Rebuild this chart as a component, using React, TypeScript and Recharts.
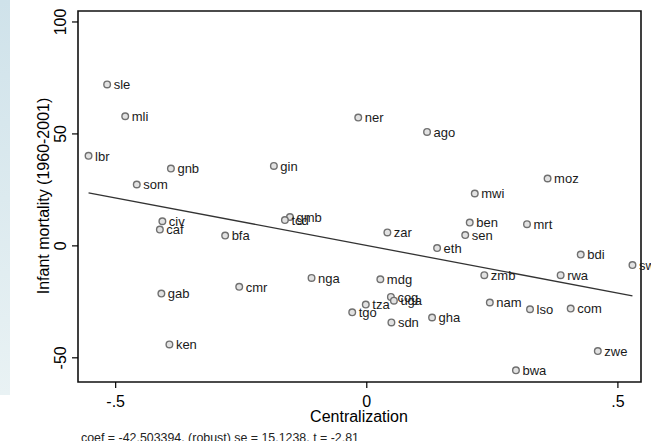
import React from 'react'
import { ScatterChart, Scatter, XAxis, YAxis, ReferenceLine, ReferenceArea } from 'recharts'

const countries = ['sle', 'mli', 'lbr', 'gnb', 'som', 'gin', 'ner', 'ago', 'moz', 'mwi', 'civ', 'caf', 'bfa', 'gmb', 'tcd', 'zar', 'ben', 'sen', 'mrt', 'eth', 'bdi', 'swz', 'zmb', 'rwa', 'nga', 'mdg', 'cmr', 'gab', 'cog', 'uga', 'tza', 'tgo', 'sdn', 'gha', 'nam', 'lso', 'com', 'ken', 'zwe', 'bwa']
const centralization = [-0.517, -0.481, -0.554, -0.390, -0.458, -0.185, -0.017, 0.120, 0.360, 0.215, -0.407, -0.412, -0.282, -0.153, -0.163, 0.041, 0.205, 0.196, 0.319, 0.140, 0.426, 0.529, 0.234, 0.386, -0.110, 0.027, -0.254, -0.409, 0.048, 0.054, -0.002, -0.029, 0.049, 0.130, 0.245, 0.325, 0.406, -0.393, 0.460, 0.297]
const mortality = [72.1, 57.9, 40.2, 34.5, 27.4, 35.7, 57.3, 50.9, 30.1, 23.4, 11.0, 7.3, 4.6, 12.9, 11.5, 6.0, 10.4, 4.8, 9.7, -1.0, -3.9, -8.6, -13.1, -13.1, -14.3, -14.9, -18.3, -21.3, -22.8, -24.5, -26.2, -29.7, -34.2, -32.0, -25.3, -28.3, -28.0, -44.0, -47.0, -55.6]

// fitted line end points
const fitX = [-0.554, 0.529]
const fitY = [23.7, -22.3]

const xTicks = [-0.5, 0, 0.5]
const yTicks = [-50, 0, 50, 100]
const xDomain = [-0.575, 0.546]
const yDomain = [-60.8, 104.9]

const data = countries.map((name, i) => ({ name, x: centralization[i], y: mortality[i] }))

const FONT = '"Liberation Sans", Arial, sans-serif'

const fmt = (v: number) => (v === 0 ? '0' : String(v).replace('0.', '.'))

const Marker = (p: any) => (
    <g>
        <circle cx={p.cx} cy={p.cy} r={3.3} fill="#e2e2e2" stroke="#707070" strokeWidth={1.4} />
        <text x={p.cx + 6.5} y={p.cy} dy="0.36em" fontSize={13} fill="#1a1a1a" fontFamily={FONT}>{p.payload.name}</text>
    </g>
)

const YTick = ({ x, y, payload }: any) => (
    <text x={x} y={y} transform={`rotate(-90 ${x} ${y})`} textAnchor="middle" fontSize={16} fill="#000" fontFamily={FONT}>
        {fmt(payload.value)}
    </text>
)

const XTitle = () => (
    <g fontFamily={FONT}>
        <text x={359} y={421.5} textAnchor="middle" fontSize={16} fill="#000">Centralization</text>
        <text x={81} y={442} fontSize={12.4} fill="#222">coef = -42.503394, (robust) se = 15.1238, t = -2.81</text>
    </g>
)

const YTitle = () => (
    <text x={49} y={196} transform="rotate(-90 49 196)" textAnchor="middle" fontSize={16} fill="#000" fontFamily={FONT}>
        Infant mortality (1960-2001)
    </text>
)

export default function App() {
    return (
        <div style={{ position: 'absolute', left: 0, top: 0, width: 651, height: 441, background: '#fff', overflow: 'hidden' }}>
            <div style={{ position: 'absolute', left: 0, top: 0, width: 10, height: 395, background: 'linear-gradient(#cfe2ea, #e9f2f4)' }} />
            <ScatterChart width={651} height={441} margin={{ top: 11, right: 10, left: 0, bottom: 0 }} style={{ position: 'absolute', left: 0, top: 0 }}>
                <XAxis
                    type="number"
                    dataKey="x"
                    domain={xDomain}
                    ticks={xTicks}
                    tickFormatter={fmt}
                    height={59}
                    axisLine={false}
                    tickSize={6}
                    tickMargin={8}
                    tickLine={{ stroke: '#000', strokeWidth: 1.2 }}
                    tick={{ fontSize: 16, fill: '#000', fontFamily: FONT }}
                    label={{ content: XTitle }}
                />
                <YAxis
                    type="number"
                    dataKey="y"
                    domain={yDomain}
                    ticks={yTicks}
                    width={78}
                    axisLine={false}
                    tickSize={6}
                    tickMargin={6}
                    tickLine={{ stroke: '#000', strokeWidth: 1.2 }}
                    tick={<YTick />}
                    label={{ content: YTitle }}
                />
                <ReferenceArea x1={xDomain[0]} x2={xDomain[1]} y1={yDomain[0]} y2={yDomain[1]} fill="none" fillOpacity={0} stroke="#111" strokeWidth={1.6} />
                <ReferenceLine
                    segment={[{ x: fitX[0], y: fitY[0] }, { x: fitX[1], y: fitY[1] }]}
                    stroke="#333"
                    strokeWidth={1.3}
                />
                <Scatter data={data} shape={<Marker />} isAnimationActive={false} />
            </ScatterChart>
        </div>
    )
}
